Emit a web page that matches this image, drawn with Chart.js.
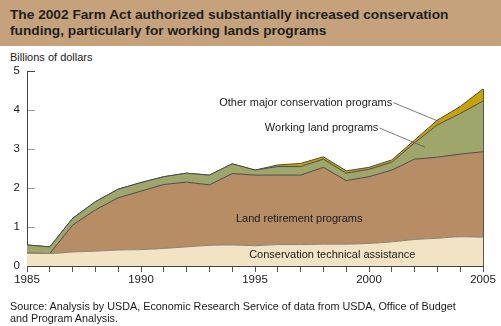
<!DOCTYPE html>
<html>
<head>
<meta charset="utf-8">
<script src="https://cdn.jsdelivr.net/npm/chart.js@4.4.1/dist/chart.umd.min.js"></script>
<style>
  html, body { margin: 0; padding: 0; background: #fff; }
  body { width: 501px; height: 326px; position: relative; overflow: hidden;
         font-family: "Liberation Sans", Arial, Helvetica, sans-serif; color: #1a1a1a; }
  #band { position: absolute; left: 0; top: 0; width: 501px; height: 46px; background: #C5A27C; }
  #title { position: absolute; left: 10px; top: 7px; font-size: 13.7px; line-height: 16px;
           font-weight: bold; color: #1e1e1e; white-space: nowrap; }
  #unit { position: absolute; left: 10px; top: 51px; font-size: 11px; line-height: 13px; white-space: nowrap; }
  #source { position: absolute; left: 10px; top: 300px; font-size: 10.8px; line-height: 12px; white-space: nowrap; }
  #wrap { position: absolute; left: 0; top: 0; width: 501px; height: 326px; }
</style>
</head>
<body>
<div id="band"></div>
<div id="title">The 2002 Farm Act authorized substantially increased conservation<br>funding, particularly for working lands programs</div>
<div id="unit">Billions of dollars</div>
<div id="wrap"><canvas id="c" width="501" height="326"></canvas></div>
<div id="source">Source: Analysis by USDA, Economic Research Service of data from USDA, Office of Budget<br>and Program Analysis.</div>

<script>
// Conservation funding by program group, billions of dollars (stacked)
const years = [1985, 1986, 1987, 1988, 1989, 1990, 1991, 1992, 1993, 1994, 1995,
               1996, 1997, 1998, 1999, 2000, 2001, 2002, 2003, 2004, 2005];
const technicalAssistance = [0.33, 0.32, 0.36, 0.38, 0.41, 0.42, 0.45, 0.49, 0.53, 0.54, 0.52,
                             0.55, 0.55, 0.56, 0.56, 0.58, 0.62, 0.68, 0.71, 0.75, 0.74];
const landRetirement = [0, 0, 0.69, 1.06, 1.34, 1.50, 1.64, 1.66, 1.55, 1.83, 1.81,
                        1.78, 1.78, 1.97, 1.63, 1.71, 1.84, 2.06, 2.08, 2.12, 2.19];
const workingLands = [0.21, 0.17, 0.17, 0.21, 0.22, 0.22, 0.20, 0.23, 0.25, 0.25, 0.13,
                      0.22, 0.22, 0.21, 0.19, 0.19, 0.20, 0.42, 0.83, 1.04, 1.30];
const otherPrograms = [0, 0, 0, 0, 0, 0, 0, 0, 0, 0, 0,
                       0.04, 0.08, 0.06, 0.06, 0.05, 0.06, 0.07, 0.12, 0.18, 0.31];

const seriesNames = ['Conservation technical assistance', 'Land retirement programs',
                     'Working land programs', 'Other major conservation programs'];
const yTicks = [0, 1, 2, 3, 4, 5];
const labelledYears = [1985, 1990, 1995, 2000, 2005];

const toPoints = vals => years.map((y, i) => ({ x: y, y: vals[i] }));

const FONT = '"Liberation Sans", Arial, Helvetica, sans-serif';

// Text labels placed in data space (year, value)
const areaLabels = [
  { text: seriesNames[1], x: 1996.94, y: 1.21, align: 'center' },
  { text: seriesNames[0], x: 1998.39, y: 0.28, align: 'center' }
];
const calloutLabels = [
  { text: seriesNames[3], x: 2001.02, y: 4.19, to: { x: 2003.05, y: 3.71 } },
  { text: seriesNames[2], x: 2000.41, y: 3.54, to: { x: 2002.45, y: 3.05 } }
];

const labelsPlugin = {
  id: 'labels',
  afterDatasetsDraw(chart) {
    const { ctx, scales: { x, y } } = chart;
    ctx.save();
    // right-hand edge of the stacked area
    const last = years.length - 1;
    const topPt = chart.getDatasetMeta(3).data[last];
    ctx.strokeStyle = '#555';
    ctx.lineWidth = 1;
    ctx.beginPath();
    ctx.moveTo(Math.round(topPt.x) + 0.5, topPt.y);
    ctx.lineTo(Math.round(topPt.x) + 0.5, y.getPixelForValue(0));
    ctx.stroke();

    ctx.font = '11px ' + FONT;
    ctx.fillStyle = '#1a1a1a';
    ctx.textBaseline = 'middle';
    areaLabels.forEach(l => {
      ctx.textAlign = l.align;
      ctx.fillText(l.text, x.getPixelForValue(l.x), y.getPixelForValue(l.y));
    });
    calloutLabels.forEach(l => {
      const px = x.getPixelForValue(l.x), py = y.getPixelForValue(l.y);
      ctx.textAlign = 'right';
      ctx.fillText(l.text, px, py);
      ctx.strokeStyle = '#5a5a5a';
      ctx.lineWidth = 0.8;
      ctx.beginPath();
      ctx.moveTo(px + 1, py);
      ctx.lineTo(x.getPixelForValue(l.to.x), y.getPixelForValue(l.to.y));
      ctx.stroke();
    });
    ctx.restore();
  }
};

const line = '#4a4a4a';
new Chart(document.getElementById('c'), {
  type: 'line',
  data: {
    datasets: [
      { label: seriesNames[0], data: toPoints(technicalAssistance), fill: 'origin',
        backgroundColor: '#F2E3C5', borderColor: '#8c8273', borderWidth: 1,
        cubicInterpolationMode: 'monotone', tension: 0.3 },
      { label: seriesNames[1], data: toPoints(landRetirement), fill: '-1',
        backgroundColor: '#B68D65', borderColor: line, borderWidth: 1 },
      { label: seriesNames[2], data: toPoints(workingLands), fill: '-1',
        backgroundColor: '#9EA66B', borderColor: line, borderWidth: 1 },
      { label: seriesNames[3], data: toPoints(otherPrograms), fill: '-1',
        backgroundColor: '#C9A206', borderColor: line, borderWidth: 1 }
    ]
  },
  options: {
    responsive: false,
    animation: false,
    devicePixelRatio: 1,
    layout: { padding: { top: 71, right: 18, bottom: 0, left: 0 } },
    elements: { point: { radius: 0, hoverRadius: 0 }, line: { tension: 0 } },
    plugins: { legend: { display: false }, tooltip: { enabled: false }, title: { display: false } },
    scales: {
      x: {
        type: 'linear', min: years[0], max: years[years.length - 1],
        afterFit: s => { s.height = 60; },
        afterBuildTicks: s => { s.ticks = years.map(v => ({ value: v })); },
        ticks: {
          autoSkip: false, maxRotation: 0, padding: 1,
          color: '#1a1a1a', font: { family: FONT, size: 11.5 },
          callback: v => labelledYears.includes(v) ? String(v) : ''
        },
        grid: { drawOnChartArea: false, drawTicks: true, tickLength: 6, color: '#555' },
        border: { color: '#444', width: 1 }
      },
      y: {
        stacked: true, min: 0, max: 5,
        afterFit: s => { s.width = 27; },
        afterBuildTicks: s => { s.ticks = yTicks.map(v => ({ value: v })); },
        ticks: { padding: 15, color: '#1a1a1a', font: { family: FONT, size: 11.5 } },
        grid: { drawOnChartArea: false, drawTicks: true, tickLength: -8,
                color: c => (c.tick && c.tick.value === 5) ? '#444' : '#999' },
        border: { color: '#444', width: 1 }
      }
    }
  },
  plugins: [labelsPlugin]
});
</script>
</body>
</html>
